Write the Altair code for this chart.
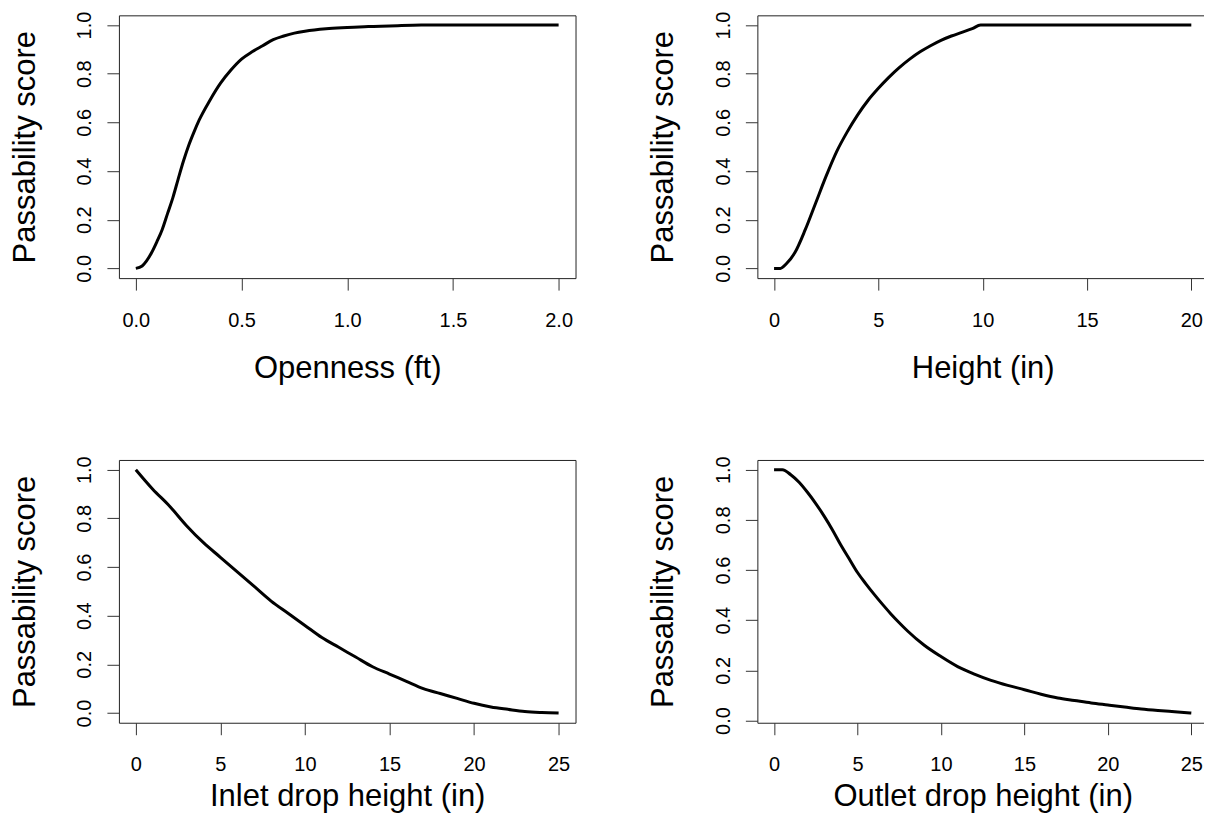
import altair as alt
import pandas as pd

# Panel 1: Openness (ft)
open_x = [0, 0.03, 0.05, 0.075, 0.1, 0.125, 0.15, 0.175, 0.2, 0.225, 0.25, 0.275, 0.3,
          0.35, 0.4, 0.45, 0.5, 0.55, 0.6, 0.65, 0.7, 0.75, 0.8, 0.9, 1.0, 1.1, 1.2, 1.35, 1.5, 2.0]
open_y = [0, 0.01, 0.03, 0.065, 0.11, 0.16, 0.225, 0.29, 0.366, 0.44, 0.505, 0.56, 0.61,
          0.69, 0.76, 0.815, 0.86, 0.89, 0.915, 0.94, 0.955, 0.967, 0.975, 0.985, 0.99, 0.994, 0.996, 1.0, 1.0, 1.0]

# Panel 2: Height (in)
height_x = [0, 0.3, 0.6, 1, 1.5, 2, 2.5, 3, 3.5, 4, 4.5, 5, 5.5, 6, 6.5, 7, 7.5, 8, 8.5, 9, 9.5, 9.9, 10, 20]
height_y = [0, 0.0, 0.02, 0.065, 0.16, 0.27, 0.38, 0.48, 0.56, 0.63, 0.69, 0.74, 0.785, 0.825, 0.86,
            0.89, 0.915, 0.937, 0.955, 0.97, 0.985, 1.0, 1.0, 1.0]

# Panel 3: Inlet drop height (in)
inlet_x = [0, 1, 2, 3, 4, 5, 6, 7, 8, 9, 10, 11, 12, 13, 14, 15, 16, 17, 18, 19, 20, 21, 22, 23, 24, 25]
inlet_y = [1.0, 0.92, 0.85, 0.77, 0.70, 0.64, 0.58, 0.52, 0.46, 0.41, 0.36, 0.31, 0.27, 0.23, 0.19,
           0.16, 0.13, 0.10, 0.08, 0.06, 0.04, 0.025, 0.015, 0.006, 0.002, 0.0]

# Panel 4: Outlet drop height (in)
outlet_x = [0, 0.5, 1, 1.5, 2, 2.5, 3, 3.5, 4, 4.5, 5, 5.5, 6, 6.5, 7, 7.5, 8, 9, 10, 11, 12, 13, 14,
            15, 16, 17, 18, 19, 20, 21, 22, 23, 24, 25]
outlet_y = [1.0, 1.0, 0.98, 0.95, 0.91, 0.865, 0.815, 0.76, 0.70, 0.645, 0.59, 0.545, 0.503, 0.463, 0.425,
            0.39, 0.357, 0.30, 0.255, 0.215, 0.185, 0.16, 0.14, 0.123, 0.105, 0.09, 0.08, 0.07, 0.062,
            0.054, 0.046, 0.04, 0.035, 0.03]

y_ticks = [0.0, 0.2, 0.4, 0.6, 0.8, 1.0]
FONT = "Liberation Sans"
H = 263


def panel(xs, ys, xtitle, xdomain, xticks, xfmt, ydomain, title_y, w):
    df = pd.DataFrame({"x": xs, "y": ys})
    return alt.Chart(df).mark_line(color="black", strokeWidth=3, interpolate="monotone").encode(
        x=alt.X("x:Q",
                scale=alt.Scale(domain=xdomain, nice=False, zero=False),
                axis=alt.Axis(values=xticks, format=xfmt, title=xtitle,
                              labelPadding=20, labelFlush=False, labelOverlap=False,
                              titleBaseline="alphabetic", titleY=title_y)),
        y=alt.Y("y:Q",
                scale=alt.Scale(domain=ydomain, nice=False, zero=False),
                axis=alt.Axis(values=y_ticks, format=".1f", title="Passability score",
                              labelAngle=270, labelAlign="center", labelBaseline="alphabetic",
                              labelPadding=16, labelFlush=False, labelOverlap=False,
                              titleAngle=270, titleBaseline="alphabetic", titleAlign="center",
                              titleX=-84.5, titleY=H / 2)),
    ).properties(width=w, height=H)


p1 = panel(open_x, open_y, "Openness (ft)", [-0.08, 2.08], [0.0, 0.5, 1.0, 1.5, 2.0], ".1f", [-0.04, 1.04], 99, 457)
p2 = panel(height_x, height_y, "Height (in)", [-0.8, 20.8], [0, 5, 10, 15, 20], "d", [-0.04, 1.04], 99, 451)
p3 = panel(inlet_x, inlet_y, "Inlet drop height (in)", [-1, 26], [0, 5, 10, 15, 20, 25], "d", [-0.04, 1.04], 83, 457)
p4 = panel(outlet_x, outlet_y, "Outlet drop height (in)", [-1, 26], [0, 5, 10, 15, 20, 25], "d", [-0.0088, 1.0388], 83, 451)

chart = alt.concat(p1, p2, p3, p4, columns=2, spacing=71).properties(
    padding={"left": 1, "top": 2, "right": -5, "bottom": 0}
).configure_view(
    stroke="#222", strokeWidth=1
).configure_axis(
    domain=False, grid=False, ticks=True, tickSize=12, tickColor="#333", tickWidth=1,
    labelFont=FONT, labelFontSize=20, labelColor="black",
    titleFont=FONT, titleFontSize=31, titleFontWeight="normal", titleColor="black"
)

chart.save("out.html", embed_options={"renderer": "svg", "actions": False})
